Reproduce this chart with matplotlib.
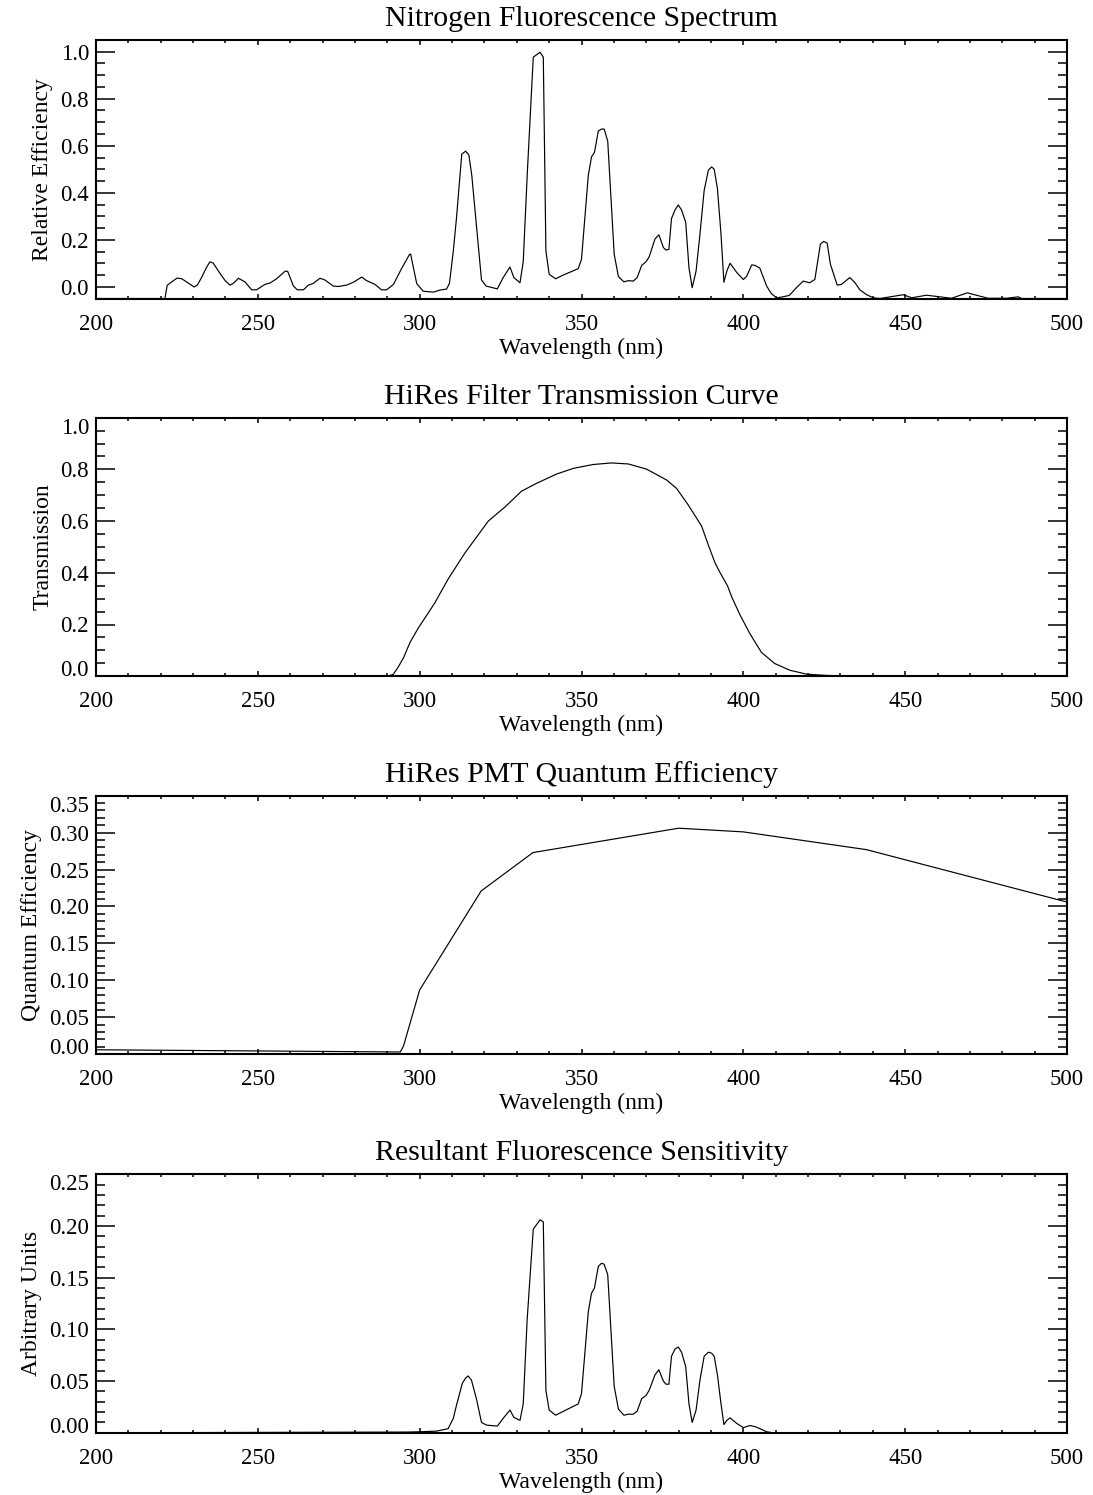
import matplotlib
matplotlib.use("Agg")
import matplotlib.pyplot as plt
from matplotlib.ticker import MultipleLocator, FormatStrFormatter
import numpy as np

plt.rcParams['font.family'] = ['Liberation Serif', 'DejaVu Serif']

# ---------------- data ----------------
n2_wl = [200, 221.3, 222.0, 223.7, 225.1, 226.5, 228.5, 230.3, 231.3, 232.6, 234.2, 235.2, 236.2,
         238.3, 239.9, 241.4, 242.4, 244.0, 246.0, 248.1, 249.6, 252.2, 253.8, 255.8, 258.4, 259.2,
         261.0, 262.2, 264.1, 265.6, 267.1, 269.2, 270.7, 273.3, 274.9, 277.4, 279.5, 282.1, 283.6,
         286.2, 288.2, 289.8, 291.9, 294.4, 296.8, 297.2, 299.1, 301.1, 304.2, 306.3, 308.3, 309.2,
         310.4, 311.4, 313.0, 314.2, 315.2, 316.1, 317.6, 319.1, 320.5, 321.7, 324.0, 325.8, 327.9,
         329.1, 331.0, 332.0, 333.3, 335.1, 337.2, 338.2, 339.0, 340.0, 342.0, 344.4, 349.0, 350.0,
         352.1, 353.1, 354.0, 355.2, 356.2, 357.0, 358.1, 360.1, 361.4, 363.1, 364.5, 366.0, 367.2,
         368.6, 369.9, 370.9, 372.7, 373.9, 375.3, 376.1, 377.0, 377.8, 378.9, 379.9, 380.9, 382.2,
         383.2, 384.2, 385.4, 386.6, 387.9, 389.2, 390.2, 391.0, 392.0, 393.1, 394.0, 394.9, 395.9,
         398.0, 400.0, 401.0, 402.6, 403.6, 405.1, 407.2, 408.7, 410.3, 411.8, 414.2, 416.4, 418.5,
         420.5, 422.1, 423.8, 424.8, 425.9, 426.9, 429.0, 430.3, 432.9, 434.4, 436.0, 438.0, 440.1,
         442.2, 446.3, 449.4, 452.0, 456.6, 460.7, 464.3, 469.2, 475.6, 481.3, 484.9, 486.0, 500]
n2_val = [-0.05, -0.05, 0.006, 0.024, 0.037, 0.034, 0.016, -0.001, 0.007, 0.039, 0.084, 0.106, 0.101,
          0.057, 0.026, 0.007, 0.014, 0.036, 0.021, -0.013, -0.013, 0.010, 0.016, 0.034, 0.066, 0.066,
          0.003, -0.013, -0.013, 0.007, 0.014, 0.036, 0.029, 0.003, 0.001, 0.007, 0.019, 0.041, 0.026,
          0.010, -0.013, -0.013, 0.010, 0.077, 0.136, 0.139, 0.013, -0.019, -0.023, -0.014, -0.010, 0.014,
          0.153, 0.296, 0.564, 0.577, 0.561, 0.474, 0.253, 0.029, 0.003, -0.001, -0.009, 0.039, 0.084,
          0.039, 0.017, 0.107, 0.496, 0.977, 0.998, 0.977, 0.153, 0.053, 0.034, 0.050, 0.077, 0.117,
          0.474, 0.553, 0.571, 0.663, 0.671, 0.671, 0.620, 0.139, 0.043, 0.021, 0.026, 0.024, 0.039,
          0.091, 0.106, 0.127, 0.203, 0.221, 0.167, 0.156, 0.159, 0.290, 0.327, 0.348, 0.327, 0.274,
          0.081, -0.004, 0.067, 0.224, 0.410, 0.496, 0.510, 0.500, 0.417, 0.224, 0.019, 0.067, 0.100,
          0.060, 0.031, 0.044, 0.093, 0.091, 0.079, 0.003, -0.030, -0.047, -0.044, -0.037, -0.004, 0.024,
          0.017, 0.031, 0.181, 0.193, 0.186, 0.096, 0.007, 0.010, 0.039, 0.019, -0.013, -0.033, -0.047,
          -0.050, -0.041, -0.034, -0.047, -0.036, -0.043, -0.049, -0.026, -0.049, -0.049, -0.043, -0.05, -0.05]

filt_wl = [200, 290.3, 291.9, 293.4, 295.0, 297.0, 299.6, 302.2, 304.7, 306.3, 308.9, 314.0, 321.2,
           326.4, 331.5, 336.1, 342.3, 347.5, 353.6, 359.3, 364.5, 370.1, 376.3, 379.4, 383.0, 387.1,
           389.2, 391.2, 392.8, 395.1, 396.4, 398.9, 402.0, 405.6, 409.7, 414.4, 419.5, 425.7, 436.0, 500]
filt_val = [0.0, 0.0, 0.008, 0.036, 0.071, 0.130, 0.187, 0.236, 0.284, 0.320, 0.378, 0.477, 0.600,
            0.655, 0.716, 0.746, 0.782, 0.804, 0.819, 0.825, 0.821, 0.801, 0.759, 0.726, 0.662, 0.581,
            0.507, 0.440, 0.401, 0.350, 0.307, 0.239, 0.165, 0.092, 0.049, 0.023, 0.008, 0.003, 0.0, 0.0]

qe_wl = [200, 294, 295, 300, 319, 335, 380, 400, 438, 500]
qe_val = [0.006, 0.003, 0.011, 0.087, 0.221, 0.273, 0.306, 0.301, 0.277, 0.206]

res_wl = [200, 296.0, 300.1, 305.2, 308.8, 310.4, 311.4, 313.2, 314.2, 315.0, 316.0, 317.6, 319.1,
          320.7, 324.0, 325.8, 327.9, 329.1, 331.0, 332.0, 333.2, 335.1, 337.2, 338.2, 339.0, 340.0,
          342.0, 349.0, 350.0, 352.1, 353.1, 354.0, 355.2, 356.2, 357.0, 358.1, 360.1, 361.4, 363.1,
          364.5, 366.0, 367.2, 368.6, 369.9, 370.9, 372.7, 373.9, 375.3, 376.1, 377.0, 377.8, 378.9,
          379.9, 380.9, 382.2, 383.2, 384.2, 385.4, 386.6, 387.9, 389.2, 390.2, 391.0, 392.0, 393.1,
          394.0, 394.9, 395.9, 398.0, 400.0, 402.0, 403.6, 405.1, 407.2, 409.2, 500]
res_val = [0.0, 0.0007, 0.001, 0.0016, 0.004, 0.014, 0.027, 0.048, 0.053, 0.055, 0.051, 0.032, 0.010,
           0.0074, 0.0065, 0.014, 0.022, 0.015, 0.012, 0.028, 0.109, 0.197, 0.206, 0.204, 0.041, 0.022,
           0.017, 0.028, 0.038, 0.117, 0.135, 0.140, 0.161, 0.164, 0.163, 0.153, 0.045, 0.023, 0.017,
           0.018, 0.018, 0.021, 0.033, 0.036, 0.041, 0.056, 0.061, 0.050, 0.047, 0.047, 0.074, 0.081,
           0.083, 0.078, 0.064, 0.028, 0.010, 0.022, 0.051, 0.074, 0.078, 0.077, 0.074, 0.056, 0.028,
           0.008, 0.012, 0.0145, 0.009, 0.005, 0.007, 0.006, 0.004, 0.001, 0.0, 0.0]

titles = ["Nitrogen Fluorescence Spectrum", "HiRes Filter Transmission Curve",
          "HiRes PMT Quantum Efficiency", "Resultant Fluorescence Sensitivity"]
ylabels = ["Relative Efficiency", "Transmission", "Quantum Efficiency", "Arbitrary Units"]
xlabel = "Wavelength (nm)"
ylims = [(-0.05, 1.05), (0.0, 1.0), (0.0, 0.35), (0.0, 0.25)]
ymajor = [0.2, 0.2, 0.05, 0.05]
yminor = [0.05, 0.05, 0.01, 0.01]
yfmt = ['%.1f', '%.1f', '%.2f', '%.2f']
series = [(n2_wl, n2_val), (filt_wl, filt_val), (qe_wl, qe_val), (res_wl, res_val)]

# ---------------- figure ----------------
W, H = 1093, 1495
fig = plt.figure(figsize=(W / 100, H / 100), dpi=100)
left_px, right_px = 96, 1067
tops_px = [40, 417.7, 795.7, 1174.3]
height_px = 258.5

for i in range(4):
    top = tops_px[i]
    ax = fig.add_axes([left_px / W, 1 - (top + height_px) / H,
                       (right_px - left_px) / W, height_px / H])
    x, y = series[i]
    ax.plot(x, y, color='black', lw=0.85)
    ax.set_xlim(200, 500)
    ax.set_ylim(*ylims[i])
    ax.xaxis.set_major_locator(MultipleLocator(50))
    ax.xaxis.set_minor_locator(MultipleLocator(10))
    ax.yaxis.set_major_locator(MultipleLocator(ymajor[i]))
    ax.yaxis.set_minor_locator(MultipleLocator(yminor[i]))
    ax.xaxis.set_major_formatter(FormatStrFormatter('%d'))
    ax.yaxis.set_major_formatter(FormatStrFormatter(yfmt[i]))
    ax.tick_params(axis='both', which='both', direction='in', top=True, right=True,
                   labelsize=16.5, width=1.1, colors='black')
    ax.tick_params(axis='x', which='major', length=3.8, pad=11)
    ax.tick_params(axis='x', which='minor', length=2.0)
    ax.tick_params(axis='y', which='major', length=13.7, pad=5)
    ax.tick_params(axis='y', which='minor', length=6.8)
    for sp in ax.spines.values():
        sp.set_linewidth(1.5)
    ax.set_title(titles[i], fontsize=21.5, pad=10)
    ax.set_xlabel(xlabel, fontsize=17, labelpad=2)
    ax.set_ylabel(ylabels[i], fontsize=17, labelpad=5)
    lo, hi = ylims[i]
    fig.canvas.draw()
    for tl in ax.get_yticklabels():
        v = tl.get_position()[1]
        if abs(v - lo) < 1e-6:
            tl.set_verticalalignment('baseline')
        elif abs(v - hi) < 1e-6:
            tl.set_verticalalignment('top')

fig.savefig("out.png", dpi=100, facecolor='white')
